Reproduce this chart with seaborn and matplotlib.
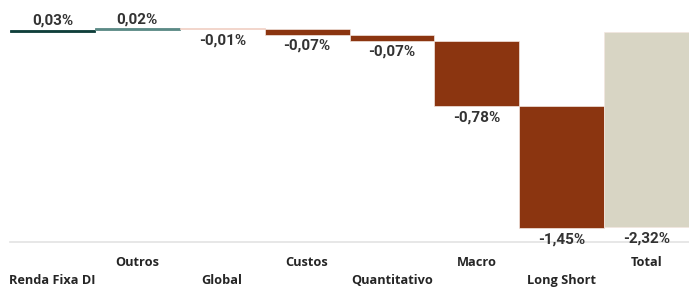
import numpy as np
import matplotlib
matplotlib.use("Agg")
import matplotlib.pyplot as plt
import seaborn as sns

# Waterfall data (contributions in %)
categories = ["Renda Fixa DI", "Outros", "Global", "Custos", "Quantitativo", "Macro", "Long Short", "Total"]
contribs = [0.03, 0.02, -0.01, -0.07, -0.07, -0.78, -1.45]
total = -2.32
bar_colors = ["#0f3f3b", "#5b8a86", "#f2d3c8", "#8b3510", "#8b3510", "#8b3510", "#8b3510", "#d8d5c4"]

sns.set_theme(style="white")
plt.rcParams["font.family"] = ["Liberation Sans Narrow", "DejaVu Sans Condensed", "Roboto", "DejaVu Sans"]

# floating bars: start/height for each step, total from zero
cum = np.cumsum([0] + contribs)
starts = list(cum[:-1]) + [0.0]
heights = contribs + [total]

fig = plt.figure(figsize=(6.89, 2.87), dpi=100)
ax = fig.add_axes([10 / 689, 45 / 287, 679 / 689, 242 / 287])

sns.barplot(x=categories, y=heights, bottom=starts, order=categories, width=1.0,
            color="#8b3510", linewidth=0, ax=ax)
for patch, c in zip(ax.patches, bar_colors):
    patch.set_facecolor(c)
    # thin bars keep a visible stroke, big ones get a light outline
    if abs(patch.get_height()) < 0.05:
        patch.set_edgecolor(c)
        patch.set_linewidth(0.6)
    else:
        patch.set_edgecolor("#f3e6df")
        patch.set_linewidth(0.5)

# value labels
for i, h in enumerate(heights):
    top = starts[i] + h
    txt = f"{h:.2f}%".replace(".", ",")
    if h >= 0:
        ax.annotate(txt, (i, top), xytext=(0, 1.5), textcoords="offset points",
                    ha="center", va="bottom", fontsize=11, fontweight="bold", color="#333333")
    else:
        ax.annotate(txt, (i, top), xytext=(0, -3), textcoords="offset points",
                    ha="center", va="top", fontsize=11, fontweight="bold", color="#333333")

ax.set_xlim(-0.5, 7.5)
ax.set_ylim(-2.494, 0.385)
ax.set_yticks([])
ax.set_ylabel("")

# staggered category labels
labels = [("\n" + c) if i % 2 == 0 else c for i, c in enumerate(categories)]
ax.set_xticks(range(len(categories)))
ax.set_xticklabels(labels, fontsize=9.2, fontweight="bold", color="#252525",
                   family=["Open Sans", "DejaVu Sans"], linespacing=1.5)
ax.tick_params(axis="x", length=0, pad=10)

for s in ["top", "left", "right"]:
    ax.spines[s].set_visible(False)
ax.spines["bottom"].set_color("#e3e3e3")
ax.spines["bottom"].set_linewidth(1.2)

fig.savefig("out.png", dpi=100)
